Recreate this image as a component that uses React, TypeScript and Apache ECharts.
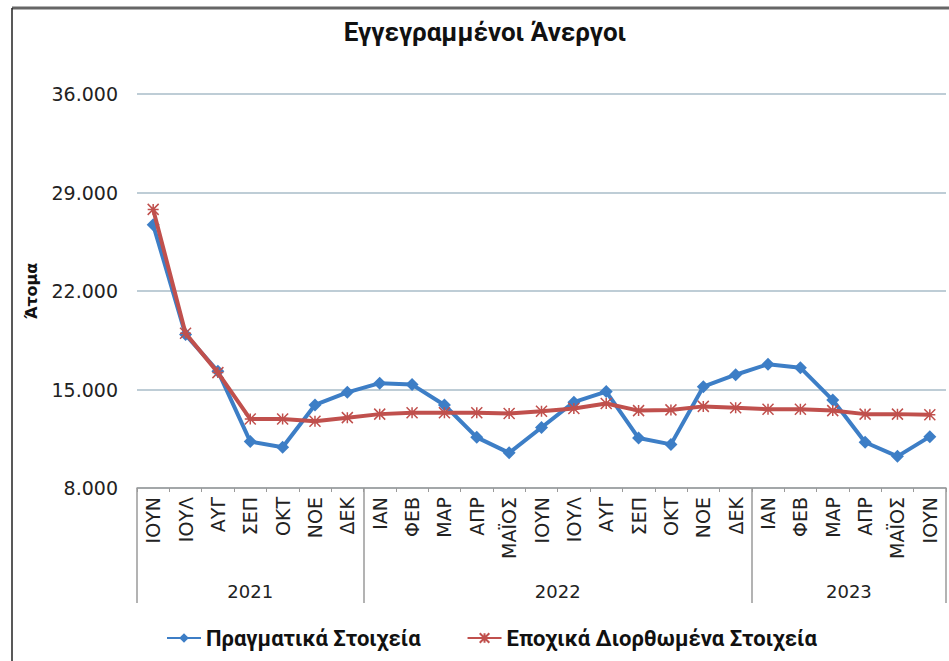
import React, { useEffect, useRef } from "react";
import * as echarts from "echarts";

const months = ["ΙΟΥΝ", "ΙΟΥΛ", "ΑΥΓ", "ΣΕΠ", "ΟΚΤ", "ΝΟΕ", "ΔΕΚ", "ΙΑΝ", "ΦΕΒ", "ΜΑΡ", "ΑΠΡ", "ΜΑΪΟΣ", "ΙΟΥΝ", "ΙΟΥΛ", "ΑΥΓ", "ΣΕΠ", "ΟΚΤ", "ΝΟΕ", "ΔΕΚ", "ΙΑΝ", "ΦΕΒ", "ΜΑΡ", "ΑΠΡ", "ΜΑΪΟΣ", "ΙΟΥΝ"];
const monthYears = ["2021", "2021", "2021", "2021", "2021", "2021", "2021", "2022", "2022", "2022", "2022", "2022", "2022", "2022", "2022", "2022", "2022", "2022", "2022", "2023", "2023", "2023", "2023", "2023", "2023"];
const years = ["2021", "2022", "2023"];
const actual = [26700, 18900, 16300, 11300, 10900, 13900, 14800, 15450, 15350, 13900, 11600, 10500, 12300, 14100, 14850, 11550, 11100, 15200, 16050, 16800, 16550, 14250, 11250, 10250, 11650];
const seasonal = [27800, 19000, 16200, 12900, 12900, 12750, 13000, 13250, 13350, 13350, 13350, 13300, 13450, 13650, 14000, 13500, 13550, 13800, 13700, 13600, 13600, 13500, 13250, 13250, 13200];
const yTicks = [8000, 15000, 22000, 29000, 36000];
const title = "Εγγεγραμμένοι Άνεργοι";
const yName = "Άτομα";
const seriesNames = ["Πραγματικά Στοιχεία", "Εποχικά Διορθωμένα Στοιχεία"];

const fmt = (v: number) => String(v).replace(/\B(?=(\d{3})+(?!\d))/g, ".");

// group boundaries and centers (in half-month units) derived from monthYears
const boundaries: number[] = [];
monthYears.forEach((y, i) => {
  if (i === 0 || monthYears[i - 1] !== y) boundaries.push(i);
});
const yearCenters: Record<number, string> = {};
years.forEach((y) => {
  const first = monthYears.indexOf(y);
  const last = monthYears.lastIndexOf(y);
  yearCenters[first + last + 1] = y;
});

export default function App() {
  const ref = useRef<HTMLDivElement>(null);
  useEffect(() => {
    if (!ref.current) return;
    const chart = echarts.init(ref.current, null, { renderer: "svg" });
    const BLUE = "#3D7EC6";
    const RED = "#C0504D";
    const font = "DejaVu Sans, Verdana, sans-serif";
    const bold = "Roboto, 'Liberation Sans', sans-serif";
    chart.setOption({
      animation: false,
      backgroundColor: "#ffffff",
      title: {
        text: title,
        left: 480,
        textAlign: "center",
        top: 14,
        textStyle: { fontFamily: bold, fontWeight: "bold", fontSize: 26, color: "#111" },
      },
      legend: {
        left: 161,
        top: 622,
        itemGap: 46,
        itemWidth: 34,
        itemHeight: 12,
        textStyle: { fontFamily: bold, fontWeight: "bold", fontSize: 22, color: "#111" },
        data: seriesNames,
      },
      grid: { left: 137, right: 3, top: 94, bottom: 173, containLabel: false },
      xAxis: [
        {
          type: "category",
          data: months,
          boundaryGap: true,
          axisLine: { show: true, lineStyle: { color: "#9a9a9a", width: 1.5 } },
          axisTick: { show: true, length: 4, interval: 0, lineStyle: { color: "#9a9a9a" } },
          axisLabel: { rotate: 90, interval: 0, margin: 9, fontFamily: font, fontSize: 19, color: "#222" },
          splitLine: { show: false },
        },
        {
          type: "category",
          data: monthYears,
          boundaryGap: true,
          position: "bottom",
          axisLine: { show: false },
          axisTick: {
            show: true,
            length: 115,
            interval: (i: number) => boundaries.indexOf(i) >= 0,
            lineStyle: { color: "#9a9a9a", width: 1.5 },
          },
          axisLabel: { show: false },
          splitLine: { show: false },
        },
        {
          type: "value",
          min: 0,
          max: months.length * 2,
          interval: 1,
          position: "bottom",
          offset: 86,
          axisLine: { show: false },
          axisTick: { show: false },
          splitLine: { show: false },
          axisLabel: {
            fontFamily: font,
            fontSize: 18,
            color: "#222",
            showMinLabel: true,
            showMaxLabel: true,
            hideOverlap: false,
            formatter: (v: number) => yearCenters[v] || "",
          },
        },
      ],
      yAxis: {
        type: "value",
        min: yTicks[0],
        max: yTicks[yTicks.length - 1],
        name: yName,
        nameLocation: "middle",
        nameRotate: 90,
        nameGap: 98,
        nameTextStyle: { fontFamily: font, fontWeight: "bold", fontSize: 16, color: "#111" },
        axisLine: { show: false },
        axisTick: { show: false, customValues: yTicks },
        axisLabel: { customValues: yTicks, margin: 19, fontFamily: font, fontSize: 19, color: "#222", formatter: (v: number) => fmt(v) },
        splitLine: { show: true, lineStyle: { color: "#A9BDC9", width: 1.5 } },
      },
      graphic: [
        { type: "line", shape: { x1: 12, y1: 8, x2: 949, y2: 8 }, style: { stroke: "#666", lineWidth: 3 }, silent: true },
        { type: "line", shape: { x1: 12, y1: 8, x2: 12, y2: 661 }, style: { stroke: "#222", lineWidth: 1.5 }, silent: true },
      ],
      series: [
        {
          name: seriesNames[0],
          type: "line",
          data: actual,
          symbol: "diamond",
          symbolSize: 13,
          lineStyle: { color: BLUE, width: 4 },
          itemStyle: { color: BLUE },
          z: 2,
        },
        {
          name: seriesNames[1],
          type: "line",
          data: seasonal,
          symbol: "path://M0,0L10,10M10,0L0,10M5,0L5,10M0,5L10,5",
          symbolSize: 11,
          lineStyle: { color: RED, width: 4 },
          itemStyle: { color: RED, borderColor: RED, borderWidth: 1.5 },
          z: 3,
        },
      ],
    });
    return () => chart.dispose();
  }, []);
  return <div ref={ref} style={{ position: "fixed", left: 0, top: 0, width: 949, height: 661 }} />;
}
